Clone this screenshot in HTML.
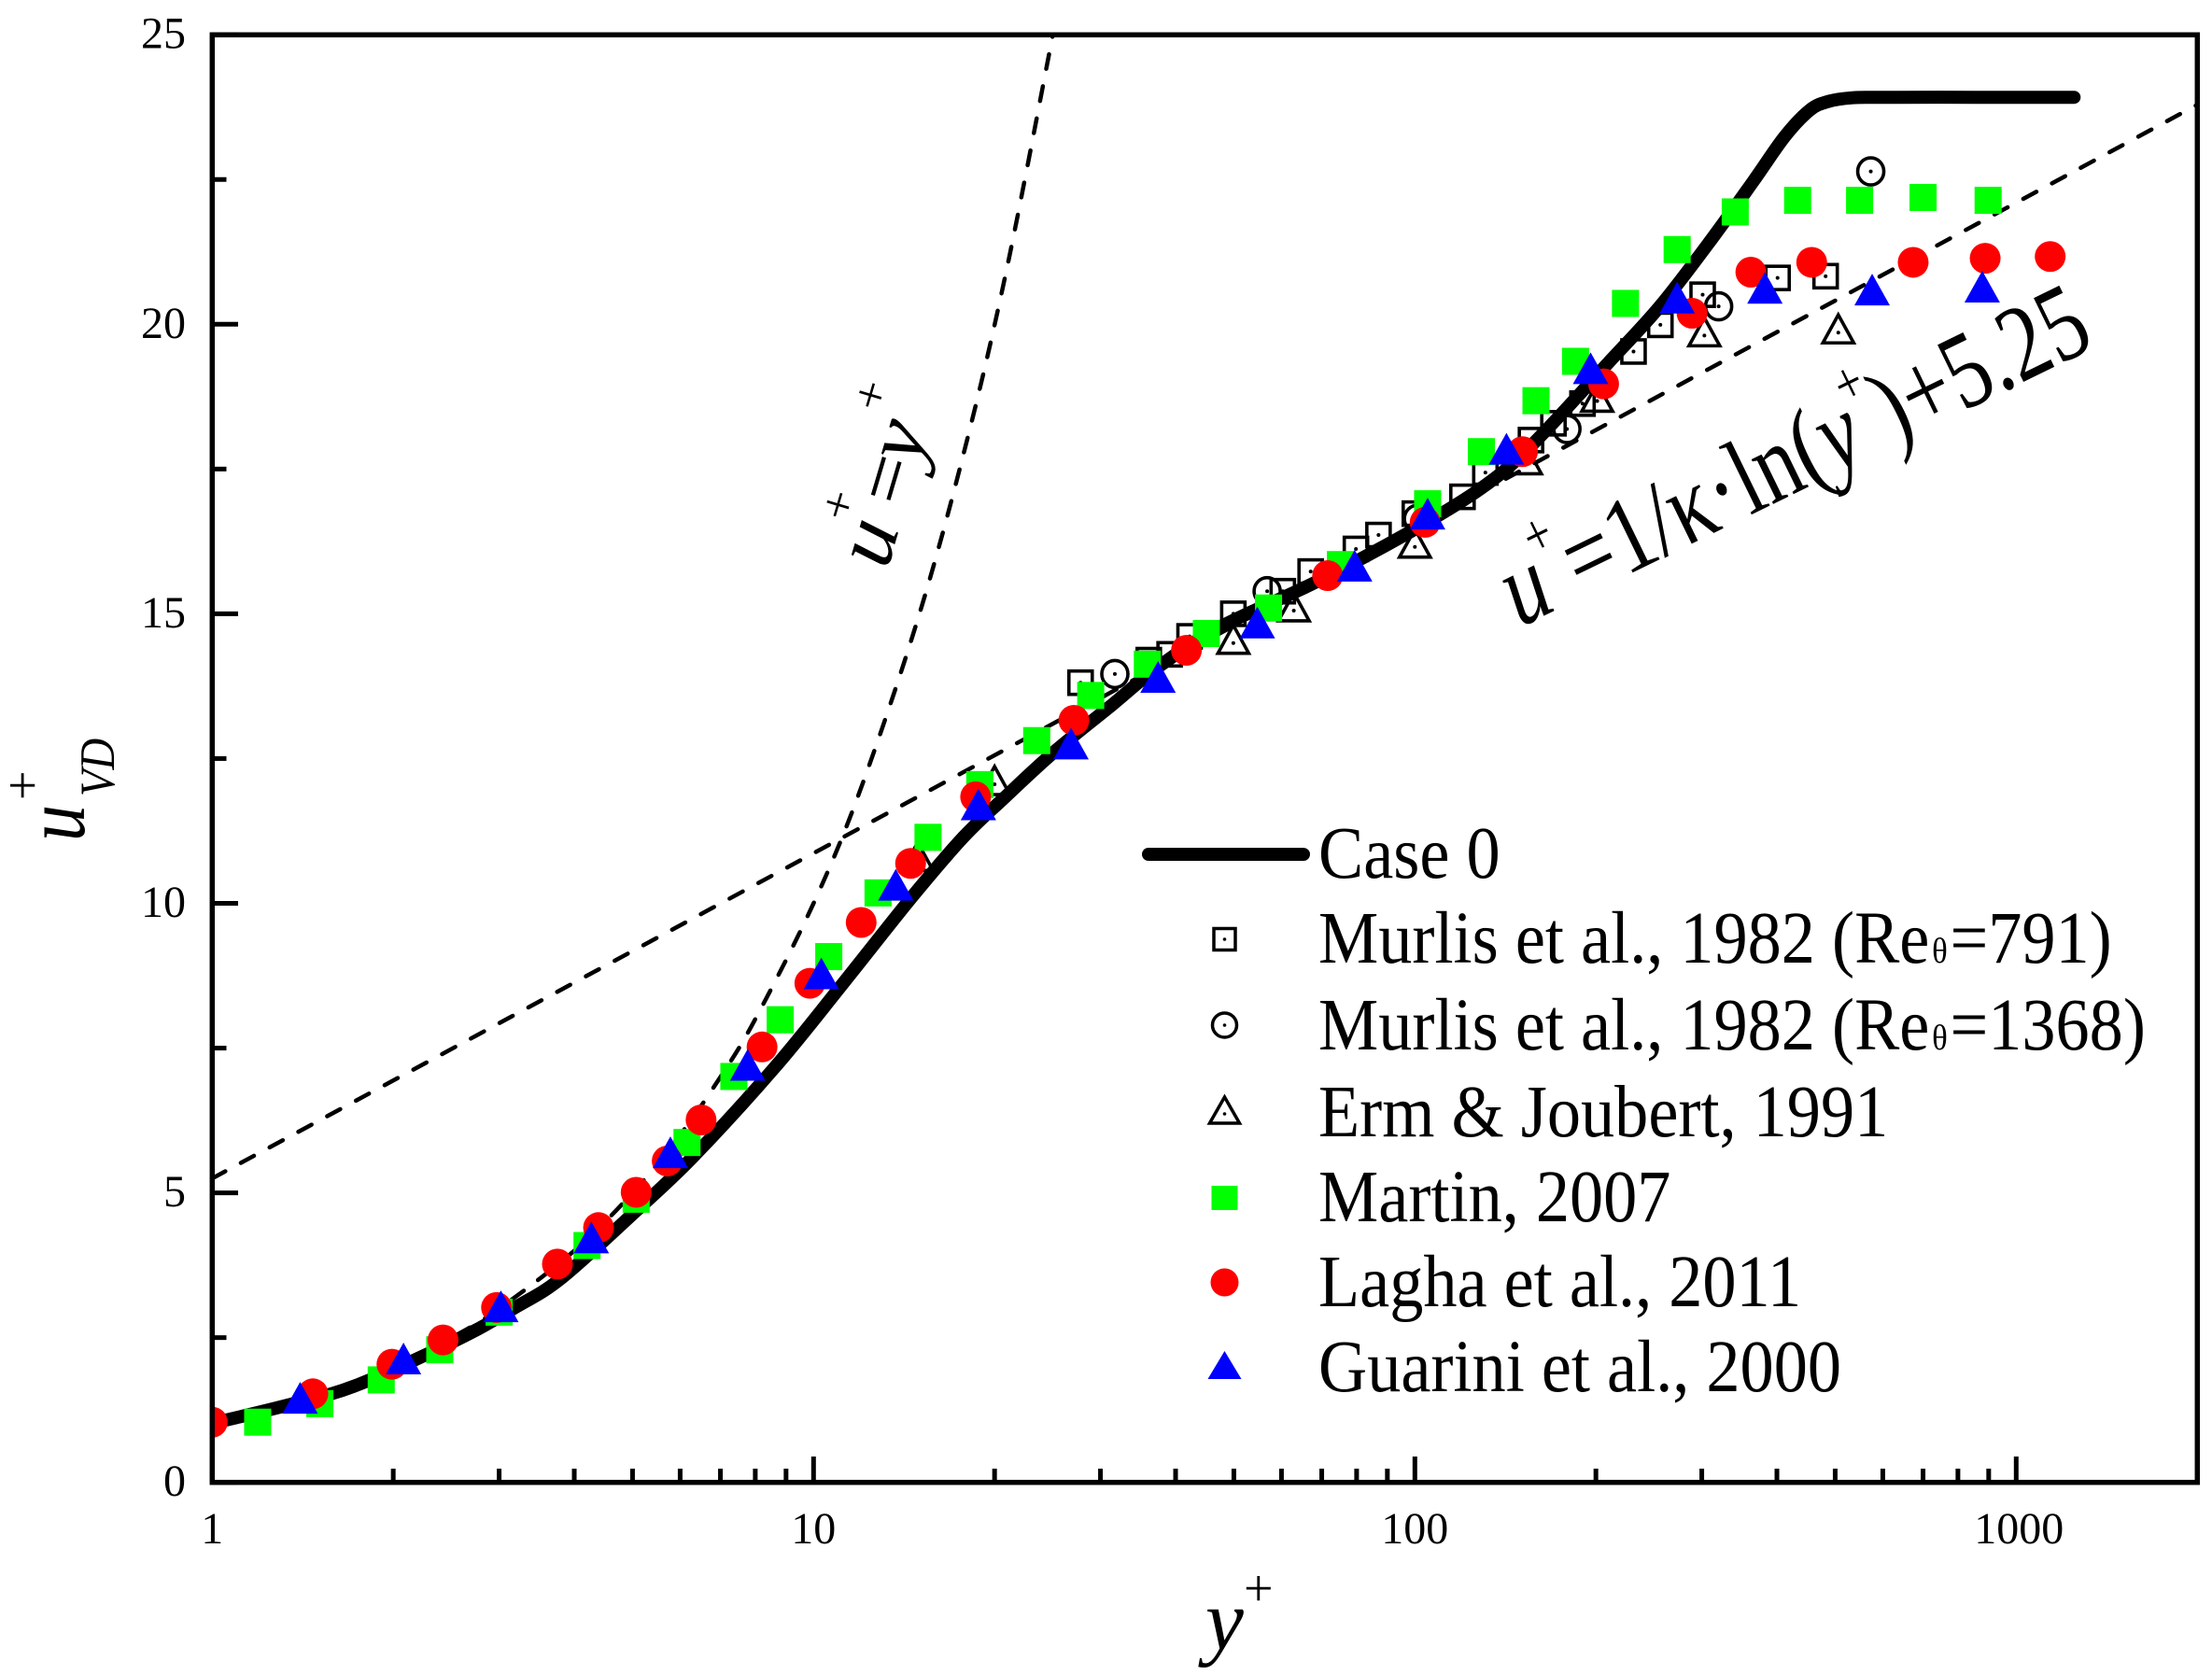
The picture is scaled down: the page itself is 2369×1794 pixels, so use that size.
<!DOCTYPE html>
<html>
<head>
<meta charset="utf-8">
<title>Velocity profile chart</title>
<style>
html,body{margin:0;padding:0;background:#fff;}
svg{position:absolute;left:0;top:0;display:block;}
text{font-family:"Liberation Serif",serif;fill:#000;}
</style>
</head>
<body>
<svg id="chart" xmlns="http://www.w3.org/2000/svg" width="2369" height="1794" viewBox="0 0 2369 1794">
  <defs><clipPath id="plot-clip"><rect x="227.3" y="37.3" width="2126" height="1550.4"/></clipPath></defs>
  <rect x="0" y="0" width="2369" height="1794" fill="#fff"/>
  <g id="marks-under" clip-path="url(#plot-clip)"></g>
  <rect x="227.3" y="37.3" width="2126" height="1550.4" fill="none" stroke="#000" stroke-width="5.5"/>
  <g id="ticks"></g>

  <g>
    <text x="1291" y="1766" font-size="92" font-style="italic">y</text>
    <text x="1332" y="1720" font-size="56">+</text>
  </g>
  <g>
    <g transform="translate(90 901) rotate(-90) scale(.85 1)"><text x="0" y="0" font-size="92" font-style="italic">u</text></g>
    <g transform="translate(122 853) rotate(-90) scale(.88 1)"><text x="0" y="0" font-size="53" font-style="italic">VD</text></g>
    <g transform="translate(43 857) rotate(-90)"><text x="0" y="0" font-size="56">+</text></g>
  </g>

  <g transform="translate(950 611) rotate(-73.5) scale(.95 .9)">
    <text x="0" y="0" font-size="100" font-style="italic">u</text>
    <text x="39" y="-59" font-size="58">+</text>
    <text x="72" y="0" font-size="96">=</text>
    <text x="122" y="0" font-size="100" font-style="italic">y</text>
    <text x="168" y="-59" font-size="58">+</text>
  </g>

  <g transform="translate(1628 672) rotate(-26) scale(.79 1)">
    <text x="0" y="0" font-size="116"><tspan font-style="italic">u</tspan><tspan font-size="64" dy="-60">+</tspan><tspan dy="60">=1/κ·ln(</tspan><tspan font-style="italic">y</tspan><tspan font-size="64" dy="-60">+</tspan><tspan dy="60">)+5.25</tspan></text>
  </g>

  <g>
    <g>
      <line x1="1230" y1="915" x2="1396" y2="915" stroke="#000" stroke-width="14" stroke-linecap="round"/>
      <g transform="translate(1412 940) scale(.915 1)"><text font-size="79">Case 0</text></g>
    </g>
    <g>
      <rect x="1300" y="994.5" width="23" height="23" fill="none" stroke="#000" stroke-width="3.5"/>
      <circle cx="1311.5" cy="1006" r="1.8" fill="#000"/>
      <g transform="translate(1412 1031) scale(.915 1)"><text font-size="79">Murlis et al., 1982 (Re<tspan font-size="38" dx="3">θ</tspan><tspan dx="3">=791)</tspan></text></g>
    </g>
    <g>
      <ellipse cx="1311.5" cy="1098" rx="13" ry="13" fill="none" stroke="#000" stroke-width="3.5"/>
      <circle cx="1311.5" cy="1098" r="1.8" fill="#000"/>
      <g transform="translate(1412 1124) scale(.915 1)"><text font-size="79">Murlis et al., 1982 (Re<tspan font-size="38" dx="3">θ</tspan><tspan dx="3">=1368)</tspan></text></g>
    </g>
    <g>
      <polygon points="1311.5,1175 1327.5,1203 1295.5,1203" fill="none" stroke="#000" stroke-width="3.5"/>
      <circle cx="1311.5" cy="1193" r="1.8" fill="#000"/>
      <g transform="translate(1412 1217) scale(.915 1)"><text font-size="79">Erm &amp; Joubert, 1991</text></g>
    </g>
    <rect x="1297.5" y="1270" width="28" height="26" fill="#00ff00"/>
    <g transform="translate(1412 1308) scale(.915 1)"><text font-size="79">Martin, 2007</text></g>
    <circle cx="1311.5" cy="1373.5" r="15" fill="#ff0000"/>
    <g transform="translate(1412 1399) scale(.915 1)"><text font-size="79">Lagha et al., 2011</text></g>
    <polygon points="1311.5,1447 1329.5,1477 1293.5,1477" fill="#0000ff"/>
    <g transform="translate(1412 1490) scale(.915 1)"><text font-size="79">Guarini et al., 2000</text></g>
  </g>
</svg>
<script>
// ---- chart data ----
const xMajorTicks = [1, 10, 100, 1000];
const xTickLabels = ["1", "10", "100", "1000"];
const xMinorTicks = [2,3,4,5,6,7,8,9,20,30,40,50,60,70,80,90,200,300,400,500,600,700,800,900];
const yMajorTicks = [0, 5, 10, 15, 20, 25];
const yTickLabels = ["0", "5", "10", "15", "20", "25"];
const yMinorTicks = [2.5, 7.5, 12.5, 17.5, 22.5];

const viscousY = [1, 1.25, 1.5, 2, 2.5, 3, 4, 5, 6, 7, 8, 10, 12, 15, 18, 21, 25];
const viscousU = [1, 1.25, 1.5, 2, 2.5, 3, 4, 5, 6, 7, 8, 10, 12, 15, 18, 21, 25];
const logLawY = [1, 2000];
const logLawU = [5.25, 23.79];

const case0Y = [1, 1.33, 1.74, 2.55, 3.19, 3.81, 5.02, 6.30, 8.61, 11.2, 14.5, 17.7, 20.8, 25.1, 31.3, 37.4, 47.2, 68.2, 98, 129, 156, 210, 256, 311, 366, 412, 454, 488, 532, 586, 855, 1248];
const case0U = [1.02, 1.33, 1.68, 2.46, 3.02, 3.53, 4.65, 5.62, 7.16, 8.62, 10.08, 11.13, 11.83, 12.61, 13.42, 14.08, 14.76, 15.54, 16.41, 17.17, 17.90, 19.34, 20.32, 21.46, 22.48, 23.24, 23.70, 23.85, 23.91, 23.92, 23.92, 23.92];

const murlis791Y = [27.8, 36.1, 39.1, 42.2, 49.9, 60.3, 67.1, 79.8, 87, 100, 120, 131, 156, 170, 190, 231, 256, 301, 401, 482];
const murlis791U = [13.81, 14.20, 14.30, 14.61, 15.00, 15.39, 15.73, 16.12, 16.36, 16.73, 17.02, 17.44, 18.00, 18.29, 18.63, 19.53, 19.99, 20.51, 20.80, 20.83];

const murlis1368Y = [31.7, 56.8, 101, 179, 320, 573];
const murlis1368U = [13.96, 15.39, 16.64, 18.19, 20.31, 22.64];

const ermY = [14.9, 20, 49.9, 62.9, 100, 153, 201, 303, 506];
const ermU = [10.81, 12.12, 14.56, 15.12, 16.22, 17.66, 18.74, 19.87, 19.92];

const martinY = [1.19, 1.51, 1.91, 2.39, 3.00, 4.20, 5.07, 6.16, 7.37, 8.80, 10.6, 12.8, 15.5, 18.9, 23.5, 28.9, 35.9, 45, 57.1, 75.2, 105, 129, 159, 185, 224, 273, 341, 433, 549, 700, 898];
const martinU = [1.04, 1.36, 1.77, 2.29, 2.94, 4.09, 4.89, 5.87, 7.01, 7.99, 9.08, 10.18, 11.14, 12.05, 12.81, 13.59, 14.13, 14.66, 15.10, 15.85, 16.90, 17.80, 18.68, 19.36, 20.36, 21.29, 21.94, 22.14, 22.14, 22.19, 22.14];

const laghaY = [1, 1.47, 1.99, 2.42, 2.97, 3.75, 4.39, 5.07, 5.71, 6.50, 8.21, 9.86, 12, 14.5, 18.6, 27.1, 41.7, 71.6, 104, 151, 206, 289, 362, 457, 674, 888, 1139];
const laghaU = [1.04, 1.53, 2.04, 2.46, 3.02, 3.77, 4.40, 5.01, 5.55, 6.26, 7.52, 8.62, 9.67, 10.69, 11.84, 13.16, 14.37, 15.66, 16.58, 17.80, 18.97, 20.19, 20.90, 21.07, 21.07, 21.14, 21.17];

const guariniY = [1.40, 2.08, 3.02, 4.27, 5.78, 7.77, 10.3, 13.7, 18.8, 26.8, 37.4, 54.7, 79.4, 105, 142, 196, 273, 382, 576, 878];
const guariniU = [1.46, 2.14, 3.04, 4.23, 5.70, 7.21, 8.79, 10.32, 11.71, 12.76, 13.91, 14.85, 15.83, 16.73, 17.85, 19.24, 20.46, 20.63, 20.60, 20.65];

// ---- axis functions ----
const SVGNS = "http://www.w3.org/2000/svg";
function xScale(v) { return 227.3 + 644 * Math.log10(v); }
function yScale(v) { return 1587.7 - 62.02 * v; }
function mk(tag, parent) {
  const n = document.createElementNS(SVGNS, tag);
  parent.appendChild(n);
  return n;
}
function smoothPath(xs, us) {
  const p = xs.map((x, i) => [xScale(x), yScale(us[i])]);
  let d = "M" + p[0][0].toFixed(1) + " " + p[0][1].toFixed(1);
  for (let i = 0; i < p.length - 1; i++) {
    const a = p[Math.max(0, i - 1)], b = p[i], c = p[i + 1], e = p[Math.min(p.length - 1, i + 2)];
    const c1x = b[0] + (c[0] - a[0]) / 6, c1y = b[1] + (c[1] - a[1]) / 6;
    const c2x = c[0] - (e[0] - b[0]) / 6, c2y = c[1] - (e[1] - b[1]) / 6;
    d += "C" + c1x.toFixed(1) + " " + c1y.toFixed(1) + " " + c2x.toFixed(1) + " " + c2y.toFixed(1) + " " + c[0].toFixed(1) + " " + c[1].toFixed(1);
  }
  return d;
}
function strokeStyle(n, w, cap, dash) {
  n.setAttribute("fill", "none");
  n.setAttribute("stroke", "#000");
  n.setAttribute("stroke-width", w);
  n.setAttribute("stroke-linecap", cap);
  if (dash) n.setAttribute("stroke-dasharray", dash);
}
function squareAt(parent, cx, cy, s, fill) {
  const n = mk("rect", parent);
  n.setAttribute("x", cx - s / 2);
  n.setAttribute("y", cy - s / 2);
  n.setAttribute("width", s);
  n.setAttribute("height", s);
  n.setAttribute("fill", fill);
  return n;
}
function triangleAt(parent, cx, cy, w, h, fill) {
  const n = mk("polygon", parent);
  n.setAttribute("points", cx + "," + (cy - h / 2) + " " + (cx + w / 2) + "," + (cy + h / 2) + " " + (cx - w / 2) + "," + (cy + h / 2));
  n.setAttribute("fill", fill);
  return n;
}
function ellipseAt(parent, cx, cy, rx, ry, fill) {
  const n = mk("ellipse", parent);
  n.setAttribute("cx", cx);
  n.setAttribute("cy", cy);
  n.setAttribute("rx", rx);
  n.setAttribute("ry", ry);
  n.setAttribute("fill", fill);
  return n;
}
function openStyle(n) {
  n.setAttribute("fill", "none");
  n.setAttribute("stroke", "#000");
  n.setAttribute("stroke-width", "3.6");
}

const plot = document.getElementById("marks-under");
const ticks = document.getElementById("ticks");

// ---- ticks and labels ----
xMajorTicks.forEach((v, i) => {
  const t = mk("line", ticks);
  
  
  t.setAttribute("x1", xScale(v)); t.setAttribute("x2", xScale(v));
  t.setAttribute("y1", 1587.7); t.setAttribute("y2", 1560);
  t.setAttribute("stroke", "#000"); t.setAttribute("stroke-width", 5);
  const l = mk("text", ticks);
  
  
  l.setAttribute("x", xScale(v) + (i === 3 ? 3 : 0));
  l.setAttribute("y", 1653);
  l.setAttribute("font-size", 48);
  l.setAttribute("text-anchor", "middle");
  l.textContent = xTickLabels[i];
});
xMinorTicks.forEach(v => {
  const t = mk("line", ticks);
  
  
  t.setAttribute("x1", xScale(v)); t.setAttribute("x2", xScale(v));
  t.setAttribute("y1", 1587.7); t.setAttribute("y2", 1573);
  t.setAttribute("stroke", "#000"); t.setAttribute("stroke-width", 5);
});
yMajorTicks.forEach((v, i) => {
  const t = mk("line", ticks);
  
  
  t.setAttribute("x1", 227.3); t.setAttribute("x2", 255);
  t.setAttribute("y1", yScale(v)); t.setAttribute("y2", yScale(v));
  t.setAttribute("stroke", "#000"); t.setAttribute("stroke-width", 5);
  const l = mk("text", ticks);
  
  
  l.setAttribute("x", 199);
  l.setAttribute("y", yScale(v) + 14.5);
  l.setAttribute("font-size", 48);
  l.setAttribute("text-anchor", "end");
  l.textContent = yTickLabels[i];
});
yMinorTicks.forEach(v => {
  const t = mk("line", ticks);
  
  
  t.setAttribute("x1", 227.3); t.setAttribute("x2", 242.5);
  t.setAttribute("y1", yScale(v)); t.setAttribute("y2", yScale(v));
  t.setAttribute("stroke", "#000"); t.setAttribute("stroke-width", 5);
});

// ---- reference lines ----
const viscousLine = mk("path", plot);


viscousLine.setAttribute("d", smoothPath(viscousY, viscousU));
strokeStyle(viscousLine, 4.5, "round", "16 19");

const logLine = mk("path", plot);


logLine.setAttribute("d", smoothPath(logLawY, logLawU));
strokeStyle(logLine, 4.5, "round", "16 19");

// ---- open symbols ----
murlis791Y.forEach((v, i) => {
  const cx = xScale(v), cy = yScale(murlis791U[i]);
  const m = squareAt(plot, cx, cy, 25, "none");
  
  
  openStyle(m);
  const d = ellipseAt(plot, cx, cy, 2, 2, "#000");
  
  
});
murlis1368Y.forEach((v, i) => {
  const cx = xScale(v), cy = yScale(murlis1368U[i]);
  const m = ellipseAt(plot, cx, cy, 14, 14.5, "none");
  
  
  openStyle(m);
  const d = ellipseAt(plot, cx, cy, 2, 2, "#000");
  
  
});
ermY.forEach((v, i) => {
  const cx = xScale(v), cy = yScale(ermU[i]);
  const m = triangleAt(plot, cx, cy, 33, 30, "none");
  
  
  openStyle(m);
  const d = ellipseAt(plot, cx, cy + 4, 2, 2, "#000");
  
  
});

// ---- Case 0 curve ----
const caseLine = mk("path", plot);


caseLine.setAttribute("d", smoothPath(case0Y, case0U));
strokeStyle(caseLine, 14, "round");
caseLine.setAttribute("stroke-linejoin", "round");

// ---- filled symbols ----
martinY.forEach((v, i) => {
  const m = squareAt(plot, xScale(v), yScale(martinU[i]), 29, "#00ff00");
  
  
});
laghaY.forEach((v, i) => {
  const m = ellipseAt(plot, xScale(v), yScale(laghaU[i]), 16.5, 16.5, "#ff0000");
  
  
});
guariniY.forEach((v, i) => {
  const m = triangleAt(plot, xScale(v), yScale(guariniU[i]), 38, 34, "#0000ff");
  
  
});
</script>
</body>
</html>
